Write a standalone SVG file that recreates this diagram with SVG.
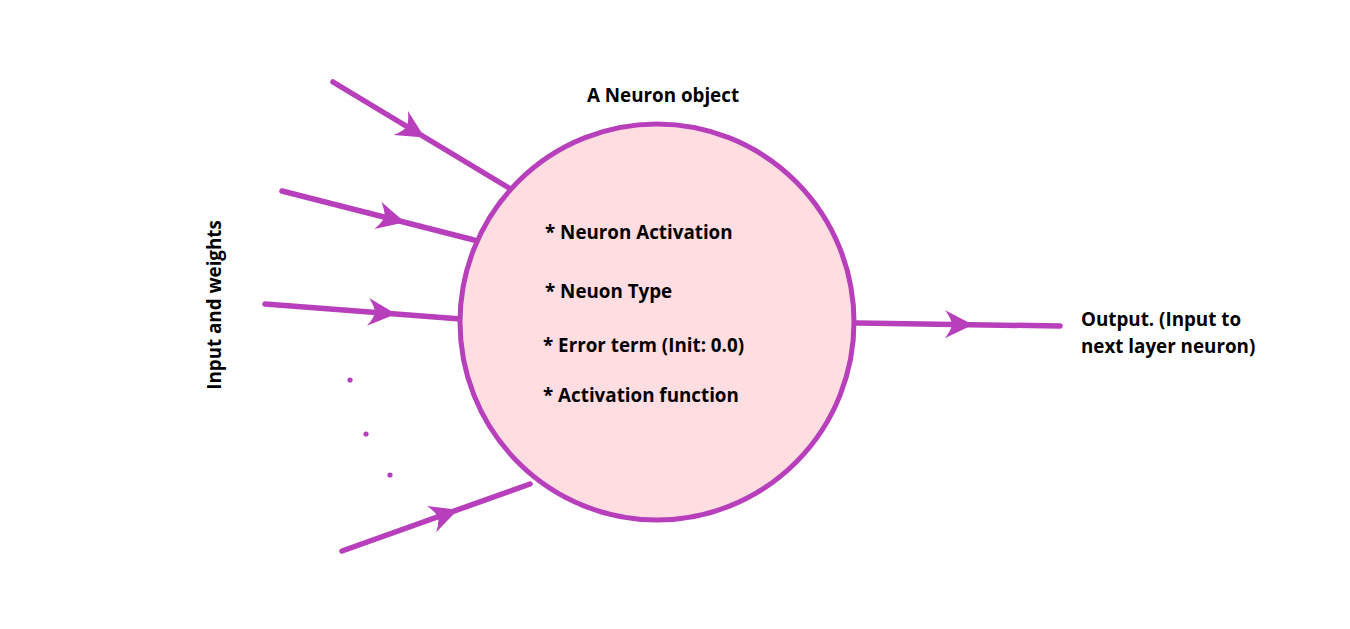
<svg xmlns="http://www.w3.org/2000/svg" xmlns:xlink="http://www.w3.org/1999/xlink" width="1350" height="629" viewBox="0 0 1350 629">
<style>
.ln{stroke:#b83fbb;stroke-width:5.5;stroke-linecap:round;fill:none}
.ah{fill:#b83fbb}
.t{font-family:"Open Sans","Noto Sans","Liberation Sans",sans-serif;font-weight:bold;font-size:18.8px;fill:#000}
</style>
<defs>
<path id="ah" d="M2,0 L-26,-14 Q-20,-6 -19,0 Q-20,6 -26,14 Z"/>
</defs>
<rect width="1350" height="629" fill="#fff"/>
<g id="connectors">
<line class="ln" x1="333" y1="82" x2="509" y2="188"/>
<use class="ah" href="#ah" transform="translate(423,136.5) rotate(31.06)"/>
<line class="ln" x1="282" y1="191" x2="474" y2="240"/>
<use class="ah" href="#ah" transform="translate(403,221.8) rotate(14.3)"/>
<line class="ln" x1="265" y1="304" x2="461" y2="319"/>
<use class="ah" href="#ah" transform="translate(394,313.9) rotate(4.4)"/>
<line class="ln" x1="342" y1="551" x2="530" y2="484"/>
<use class="ah" href="#ah" transform="translate(456,510.4) rotate(-19.6)"/>
<line class="ln" x1="857" y1="323" x2="1060" y2="326"/>
<use class="ah" href="#ah" transform="translate(971,324.7) rotate(0.85)"/>
<circle class="ah" cx="350" cy="380" r="2.6"/>
<circle class="ah" cx="366" cy="434" r="2.6"/>
<circle class="ah" cx="390" cy="475" r="2.6"/>
</g>
<g id="neuron">
<ellipse cx="657" cy="322" rx="197" ry="198" fill="#ffdde0" stroke="#b83fbb" stroke-width="5"/>
<text class="t" x="663" y="102" text-anchor="middle">A Neuron object</text>
<text class="t" x="545" y="239">* Neuron Activation</text>
<text class="t" x="545" y="298">* Neuon Type</text>
<text class="t" x="543" y="352">* Error term (Init: 0.0)</text>
<text class="t" x="543" y="402">* Activation function</text>
</g>
<g id="input-label">
<text class="t" transform="translate(221,305) rotate(-90)" text-anchor="middle">Input and weights</text>
</g>
<g id="output-label">
<text class="t" x="1081" y="326">Output. (Input to</text>
<text class="t" x="1081" y="353">next layer neuron)</text>
</g>
</svg>
